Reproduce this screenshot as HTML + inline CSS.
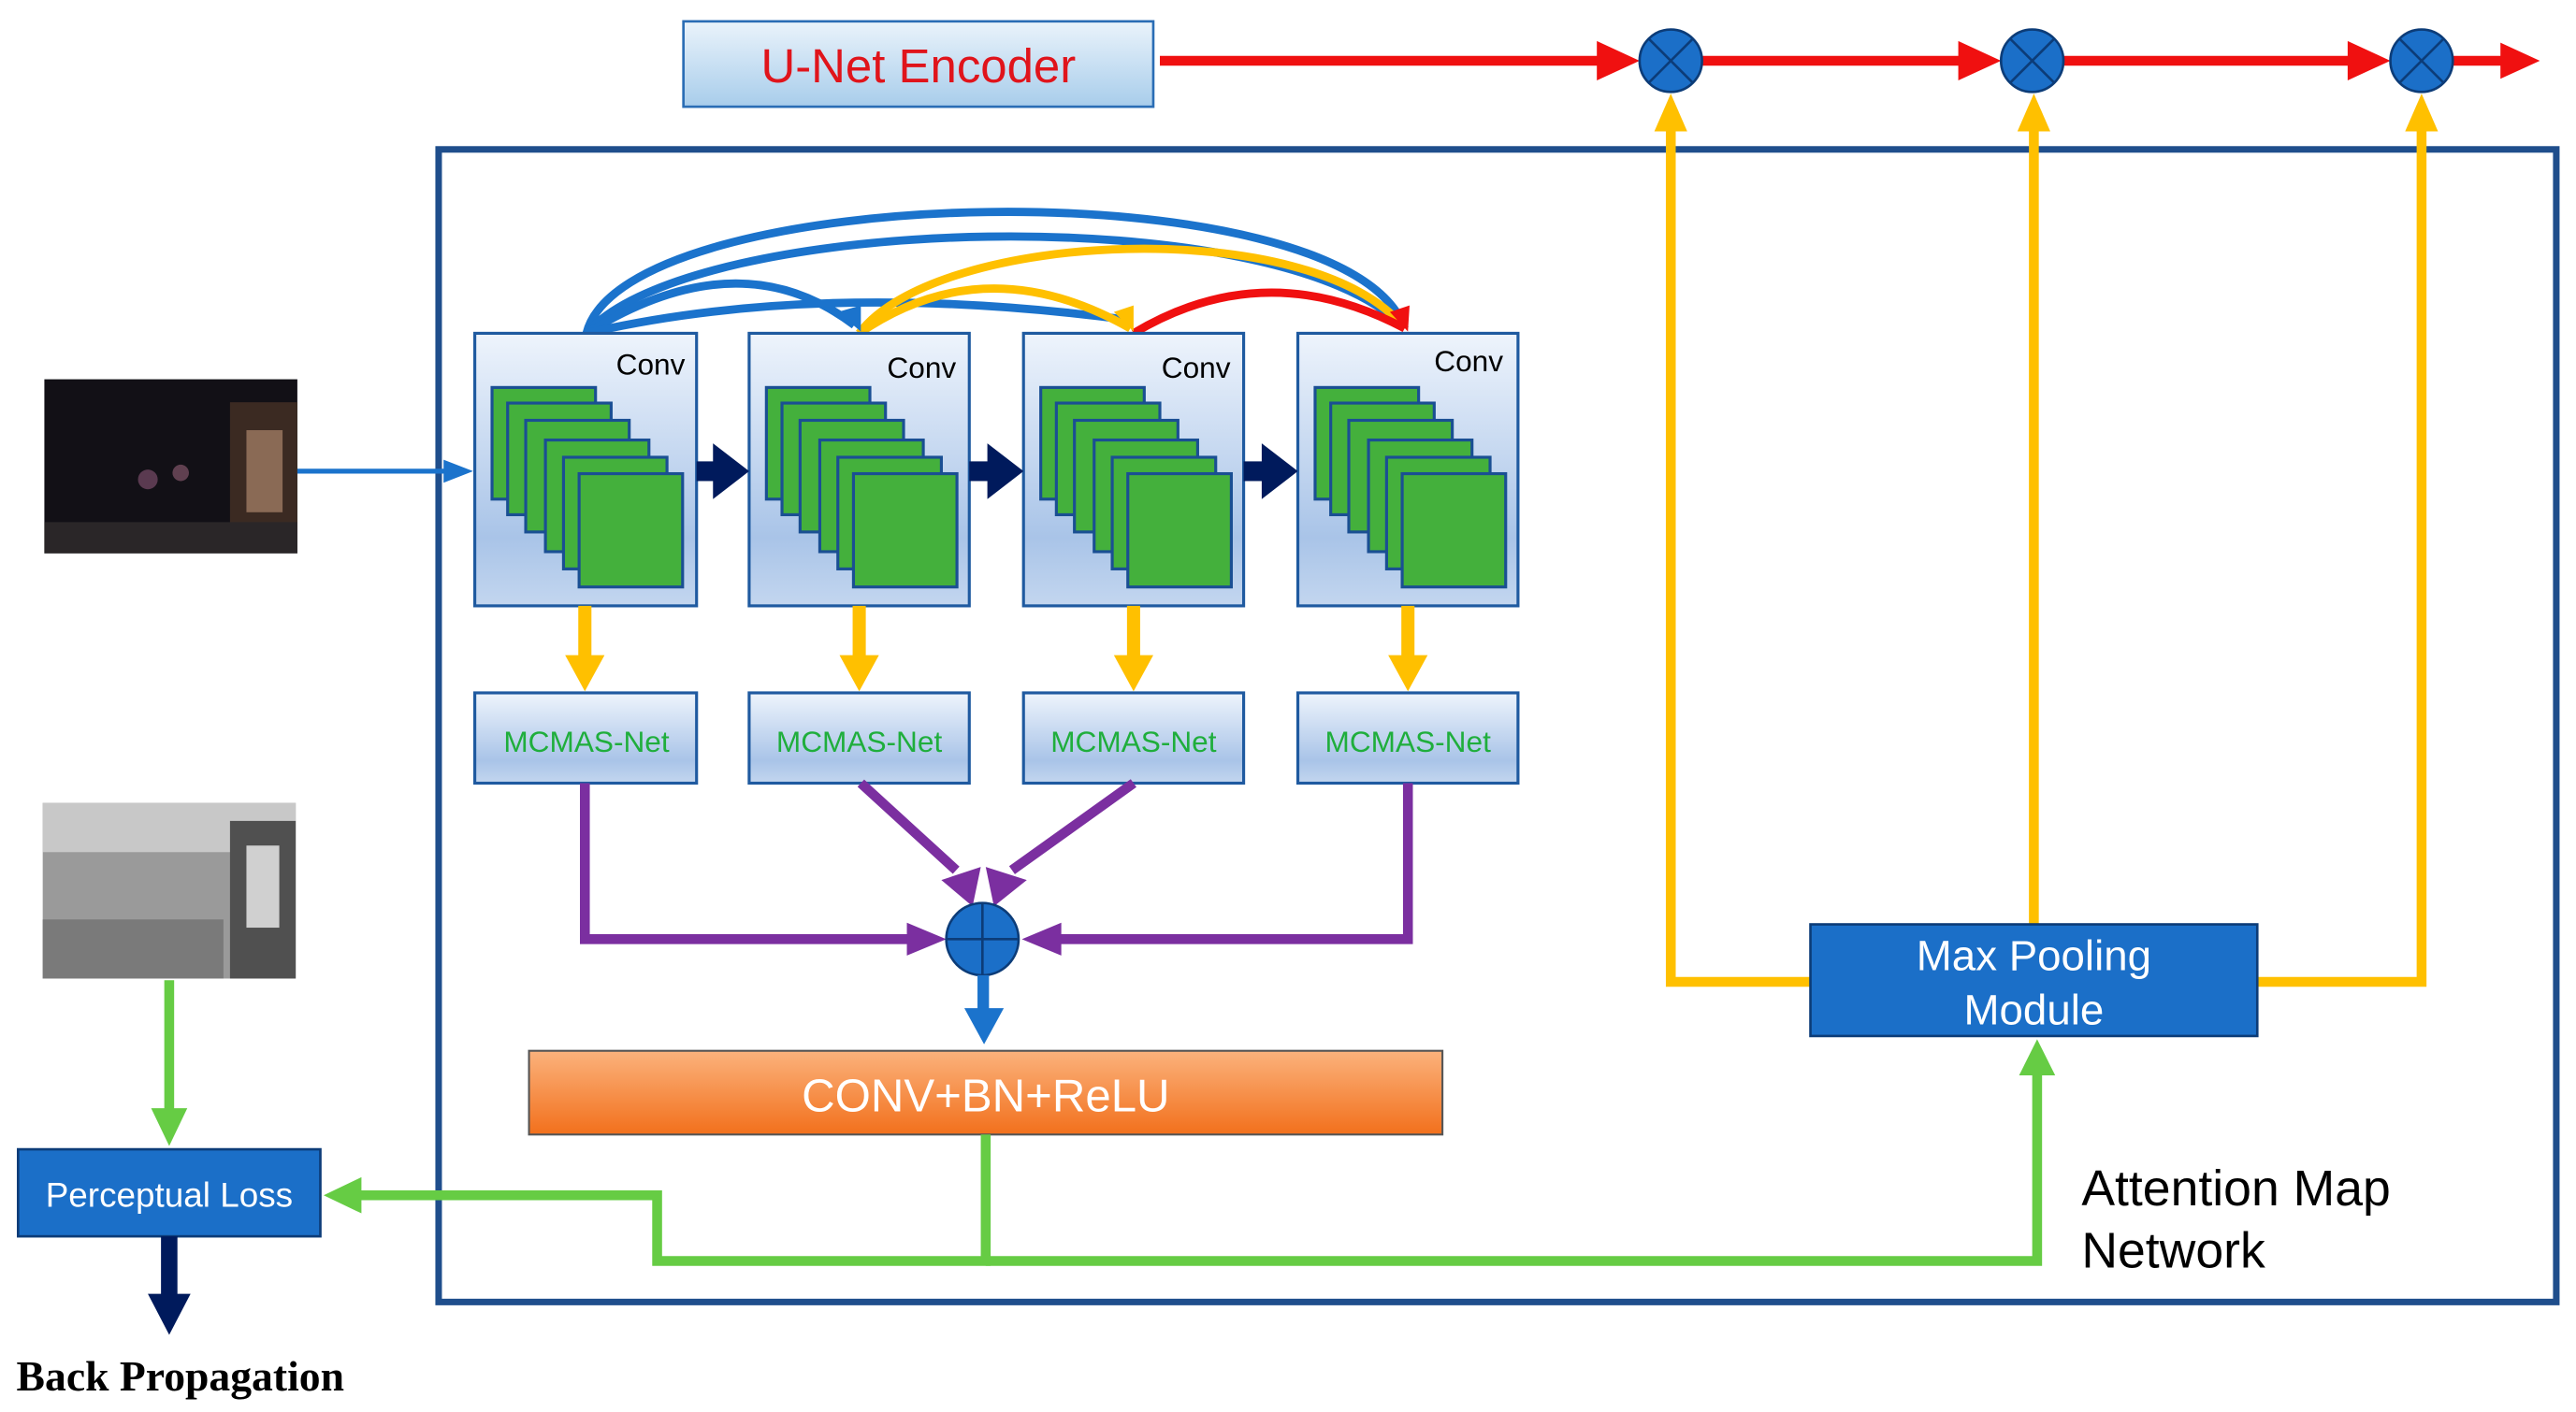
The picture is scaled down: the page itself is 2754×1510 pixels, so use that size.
<!DOCTYPE html>
<html><head><meta charset="utf-8"><style>
html,body{margin:0;padding:0;background:#fff;}
svg{display:block;}
text{font-family:"Liberation Sans",sans-serif;}
</style></head><body>
<svg width="2754" height="1510" viewBox="0 0 1568 860" preserveAspectRatio="none" xmlns="http://www.w3.org/2000/svg">
<defs>
<linearGradient id="lb" x1="0" y1="0" x2="0" y2="1"><stop offset="0" stop-color="#eef4fc"/><stop offset="0.75" stop-color="#a9c4e8"/><stop offset="1" stop-color="#c3d6ef"/></linearGradient>
<linearGradient id="ub" x1="0" y1="0" x2="0" y2="1"><stop offset="0" stop-color="#eaf3fb"/><stop offset="1" stop-color="#a8cdeb"/></linearGradient>
<linearGradient id="og" x1="0" y1="0" x2="0" y2="1"><stop offset="0" stop-color="#fbb27c"/><stop offset="1" stop-color="#f2701c"/></linearGradient>
<g id="stack">
<rect x="10.5" y="33" width="63" height="68" fill="#44b03c" stroke="#1a4f93" stroke-width="1.8"/>
<rect x="20" y="42.5" width="63" height="68" fill="#44b03c" stroke="#1a4f93" stroke-width="1.8"/>
<rect x="31" y="53" width="63" height="68" fill="#44b03c" stroke="#1a4f93" stroke-width="1.8"/>
<rect x="43" y="65" width="63" height="68" fill="#44b03c" stroke="#1a4f93" stroke-width="1.8"/>
<rect x="54" y="75.5" width="63" height="68" fill="#44b03c" stroke="#1a4f93" stroke-width="1.8"/>
<rect x="63.5" y="85.5" width="63" height="69" fill="#44b03c" stroke="#1a4f93" stroke-width="1.8"/>
</g>
</defs>

<!-- U-Net encoder -->
<rect x="416" y="13" width="286" height="52" fill="url(#ub)" stroke="#2a6db5" stroke-width="1.5"/>
<text x="559" y="50" font-size="29" fill="#e0141b" text-anchor="middle">U-Net Encoder</text>
<g stroke="#f01010" stroke-width="6" fill="#f01010">
<line x1="706" y1="37" x2="975" y2="37"/><polygon points="972,25 998,37 972,49" stroke="none"/>
<line x1="1036" y1="37" x2="1195" y2="37"/><polygon points="1192,25 1218,37 1192,49" stroke="none"/>
<line x1="1256" y1="37" x2="1432" y2="37"/><polygon points="1429,25 1455,37 1429,49" stroke="none"/>
<line x1="1493" y1="37" x2="1525" y2="37"/><polygon points="1522,26 1546,37 1522,48" stroke="none"/>
</g>
<g fill="#1b6fc8" stroke="#0c3c78" stroke-width="1.5">
<circle cx="1017" cy="37" r="19"/><circle cx="1237" cy="37" r="19"/><circle cx="1474" cy="37" r="19"/>
</g>
<g stroke="#0c3c78" stroke-width="1.5">
<path d="M1004,24 L1030,50 M1030,24 L1004,50"/><path d="M1224,24 L1250,50 M1250,24 L1224,50"/><path d="M1461,24 L1487,50 M1487,24 L1461,50"/>
</g>

<!-- frame -->
<rect x="267" y="91" width="1289" height="702" fill="none" stroke="#1f4e8c" stroke-width="4"/>

<!-- curves -->
<g fill="none" stroke-width="5">
<path d="M357,203 C380,110 820,100 855,200" stroke="#1b73cc"/>
<path d="M357,203 C420,130 780,120 855,200" stroke="#1b73cc"/>
<path d="M357,203 Q450,145 520,198" stroke="#1b73cc"/>
<path d="M357,203 Q500,170 688,195" stroke="#1b73cc"/>
<path d="M523,203 C570,140 800,130 855,200" stroke="#ffc000"/>
<path d="M523,203 Q600,150 688,200" stroke="#ffc000"/>
<path d="M690,203 Q770,155 855,200" stroke="#f01010"/>
</g>
<polygon points="510,190 524,202 524,186" fill="#1b73cc"/>
<polygon points="678,190 690,202 690,186" fill="#ffc000"/>
<polygon points="846,190 857,202 858,186" fill="#f01010"/>

<!-- conv boxes -->
<g>
<rect x="289" y="203" width="135" height="166" fill="url(#lb)" stroke="#1f5aa0" stroke-width="1.8"/>
<rect x="456" y="203" width="134" height="166" fill="url(#lb)" stroke="#1f5aa0" stroke-width="1.8"/>
<rect x="623" y="203" width="134" height="166" fill="url(#lb)" stroke="#1f5aa0" stroke-width="1.8"/>
<rect x="790" y="203" width="134" height="166" fill="url(#lb)" stroke="#1f5aa0" stroke-width="1.8"/>
<use href="#stack" x="289" y="203"/><use href="#stack" x="456" y="203"/><use href="#stack" x="623" y="203"/><use href="#stack" x="790" y="203"/>
<text x="417" y="228" font-size="18" text-anchor="end">Conv</text>
<text x="582" y="230" font-size="18" text-anchor="end">Conv</text>
<text x="749" y="230" font-size="18" text-anchor="end">Conv</text>
<text x="915" y="226" font-size="18" text-anchor="end">Conv</text>
</g>
<g fill="#001a5c">
<rect x="424" y="281" width="14" height="12"/><polygon points="434,270 456,287 434,304"/>
<rect x="590" y="281" width="14" height="12"/><polygon points="601,270 623,287 601,304"/>
<rect x="757" y="281" width="14" height="12"/><polygon points="768,270 790,287 768,304"/>
</g>

<!-- input images -->
<rect x="27" y="231" width="154" height="106" fill="#121016"/>
<rect x="140" y="245" width="41" height="80" fill="#3b2a22"/>
<rect x="150" y="262" width="22" height="50" fill="#8a6a55"/>
<rect x="27" y="318" width="154" height="19" fill="#2a2628"/>
<circle cx="90" cy="292" r="6" fill="#5a3a50"/><circle cx="110" cy="288" r="5" fill="#604050"/>
<line x1="181" y1="287" x2="272" y2="287" stroke="#1b73cc" stroke-width="3"/>
<polygon points="270,280 288,287 270,294" fill="#1b73cc"/>

<rect x="26" y="489" width="154" height="107" fill="#9a9a9a"/>
<rect x="26" y="489" width="154" height="30" fill="#c8c8c8"/>
<rect x="140" y="500" width="40" height="96" fill="#505050"/>
<rect x="150" y="515" width="20" height="50" fill="#d0d0d0"/>
<rect x="26" y="560" width="110" height="36" fill="#7a7a7a"/>

<!-- yellow down arrows -->
<g fill="#ffc000">
<rect x="352" y="369" width="8" height="32"/><polygon points="344,399 368,399 356,421"/>
<rect x="519" y="369" width="8" height="32"/><polygon points="511,399 535,399 523,421"/>
<rect x="686" y="369" width="8" height="32"/><polygon points="678,399 702,399 690,421"/>
<rect x="853" y="369" width="8" height="32"/><polygon points="845,399 869,399 857,421"/>
</g>
<!-- MCMAS -->
<g>
<rect x="289" y="422" width="135" height="55" fill="url(#lb)" stroke="#1f5aa0" stroke-width="1.8"/>
<rect x="456" y="422" width="134" height="55" fill="url(#lb)" stroke="#1f5aa0" stroke-width="1.8"/>
<rect x="623" y="422" width="134" height="55" fill="url(#lb)" stroke="#1f5aa0" stroke-width="1.8"/>
<rect x="790" y="422" width="134" height="55" fill="url(#lb)" stroke="#1f5aa0" stroke-width="1.8"/>
<g font-size="18" fill="#1fae3c" text-anchor="middle">
<text x="357" y="458">MCMAS-Net</text><text x="523" y="458">MCMAS-Net</text><text x="690" y="458">MCMAS-Net</text><text x="857" y="458">MCMAS-Net</text>
</g>
</g>
<!-- purple -->
<g stroke="#7b2fa0" stroke-width="6" fill="none">
<path d="M356,477 V572 H556"/>
<path d="M857,477 V572 H642"/>
<path d="M524,477 L582,530"/>
<path d="M690,477 L616,530"/>
</g>
<g fill="#7b2fa0">
<polygon points="552,562 576,572 552,582"/>
<polygon points="646,562 622,572 646,582"/>
<polygon points="573,536 592,552 597,528"/>
<polygon points="625,536 605,552 600,528"/>
</g>
<circle cx="598" cy="572" r="22" fill="#1b6fc8" stroke="#0c3c78" stroke-width="1.5"/>
<path d="M576,572 H620 M598,550 V594" stroke="#0c3c78" stroke-width="1.5"/>
<rect x="595" y="594" width="7" height="24" fill="#1b73cc"/>
<polygon points="587,614 611,614 599,636" fill="#1b73cc"/>

<!-- CONV+BN+ReLU -->
<rect x="322" y="640" width="556" height="51" fill="url(#og)" stroke="#555" stroke-width="1.2"/>
<text x="600" y="677" font-size="28" fill="#fff" text-anchor="middle">CONV+BN+ReLU</text>

<!-- green -->
<g stroke="#66cc44" stroke-width="6" fill="none">
<path d="M600,691 V768 H400 V728 H218"/>
<path d="M600,768 H1240 V652"/>
<path d="M103,597 V678"/>
</g>
<g fill="#66cc44">
<polygon points="220,717 197,728 220,739"/>
<polygon points="1229,655 1240,633 1251,655"/>
<polygon points="92,675 114,675 103,698"/>
</g>

<!-- yellow to circles -->
<g stroke="#ffc000" stroke-width="6" fill="none">
<path d="M1102,598 H1017 V76"/>
<path d="M1238,563 V76"/>
<path d="M1374,598 H1474 V76"/>
</g>
<g fill="#ffc000">
<polygon points="1007,80 1027,80 1017,57"/>
<polygon points="1228,80 1248,80 1238,57"/>
<polygon points="1464,80 1484,80 1474,57"/>
</g>

<rect x="1102" y="563" width="272" height="68" fill="#1b6fc8" stroke="#0c3c78" stroke-width="1.5"/>
<text x="1238" y="591" font-size="26" fill="#fff" text-anchor="middle">Max Pooling</text>
<text x="1238" y="624" font-size="26" fill="#fff" text-anchor="middle">Module</text>

<text x="1267" y="734" font-size="30.5" fill="#000">Attention Map</text>
<text x="1267" y="772" font-size="30.5" fill="#000">Network</text>

<!-- perceptual loss -->
<rect x="11" y="700" width="184" height="53" fill="#1b6fc8" stroke="#0c3c78" stroke-width="1.5"/>
<text x="103" y="735" font-size="21" fill="#fff" text-anchor="middle">Perceptual Loss</text>
<rect x="98" y="753" width="10" height="40" fill="#001a5c"/>
<polygon points="90,788 116,788 103,813" fill="#001a5c"/>
<text x="10" y="847" font-size="26" font-weight="bold" style="font-family:'Liberation Serif',serif">Back Propagation</text>
</svg>
</body></html>
